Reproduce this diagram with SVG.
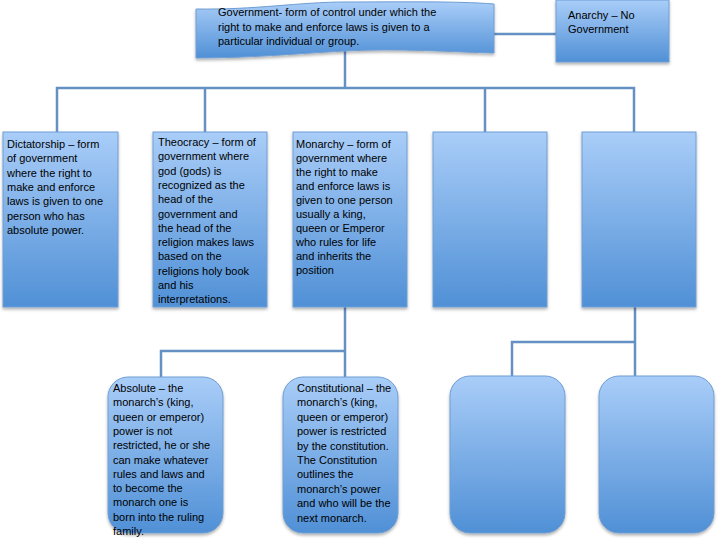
<svg xmlns="http://www.w3.org/2000/svg" width="720" height="540" viewBox="0 0 720 540">
<defs>
<linearGradient id="g" x1="0" y1="0" x2="0" y2="1">
<stop offset="0" stop-color="#a9cdf8"/>
<stop offset="1" stop-color="#5090d6"/>
</linearGradient>
<filter id="sh" x="-10%" y="-10%" width="120%" height="125%">
<feDropShadow dx="0" dy="2" stdDeviation="1.8" flood-color="#000" flood-opacity="0.3"/>
</filter>
</defs>
<style>
.box{fill:url(#g);stroke:#6f9ed3;stroke-width:1;filter:url(#sh)}
.c{fill:none;stroke:#6490c4;stroke-width:2.5}
text{font-family:"Liberation Sans",Arial,sans-serif;font-size:11px;fill:#000}
</style>
<rect width="720" height="540" fill="#fff"/>
<g id="connectors">
<path class="c" d="M494,34 H556"/>
<path class="c" d="M345,50 V88"/>
<path class="c" d="M57,132 V88 H634 V132"/>
<path class="c" d="M205,88 V132"/>
<path class="c" d="M485,88 V132"/>
<path class="c" d="M345,307 V377"/>
<path class="c" d="M161,377 V351 H345"/>
<path class="c" d="M635,307 V376"/>
<path class="c" d="M512,376 V342 H635"/>
</g>
<g id="government">
<path class="box" d="M196,9 C255,10 300,2 345,2 C400,2 455,1 494,4 L494,53 C450,52 400,48 345,51 C290,54 250,58 196,58 Z"/>
<text x="218" y="16">Government- form of control under which the</text>
<text x="218" y="30.5">right to make and enforce laws is given to a</text>
<text x="218" y="45">particular individual or group.</text>
</g>
<g id="anarchy">
<rect class="box" x="556" y="0" width="113" height="62"/>
<text x="568" y="19">Anarchy – No</text>
<text x="568" y="33">Government</text>
</g>
<g id="dictatorship">
<rect class="box" x="3" y="132" width="115" height="175"/>
<text x="7" y="148">Dictatorship – form</text>
<text x="7" y="162.3">of government</text>
<text x="7" y="176.6">where the right to</text>
<text x="7" y="190.9">make and enforce</text>
<text x="7" y="205.2">laws is given to one</text>
<text x="7" y="219.5">person who has</text>
<text x="7" y="233.8">absolute power.</text>
</g>
<g id="theocracy">
<rect class="box" x="153" y="132" width="114" height="175"/>
<text x="158" y="146">Theocracy – form  of</text>
<text x="158" y="160.3">government where</text>
<text x="158" y="174.6">god (gods) is</text>
<text x="158" y="188.9">recognized as the</text>
<text x="158" y="203.2">head of the</text>
<text x="158" y="217.5">government and</text>
<text x="158" y="231.8">the head of the</text>
<text x="158" y="246.1">religion makes laws</text>
<text x="158" y="260.4">based on the</text>
<text x="158" y="274.7">religions holy book</text>
<text x="158" y="289">and his</text>
<text x="158" y="303.3">interpretations.</text>
</g>
<g id="monarchy">
<rect class="box" x="293" y="132" width="114" height="175"/>
<text x="296" y="148">Monarchy – form of</text>
<text x="296" y="162">government where</text>
<text x="296" y="176">the right to make</text>
<text x="296" y="190">and enforce laws is</text>
<text x="296" y="204">given to one person</text>
<text x="296" y="218">usually a king,</text>
<text x="296" y="232">queen or Emperor</text>
<text x="296" y="246">who rules for life</text>
<text x="296" y="260">and inherits the</text>
<text x="296" y="274">position</text>
</g>
<g id="blank1">
<rect class="box" x="433" y="132" width="114" height="175"/>
</g>
<g id="blank2">
<rect class="box" x="582" y="132" width="114" height="175"/>
</g>
<g id="absolute">
<rect class="box" x="108" y="377" width="115" height="156" rx="20" ry="20"/>
<text x="113" y="392">Absolute – the</text>
<text x="113" y="406.3">monarch’s (king,</text>
<text x="113" y="420.6">queen or emperor)</text>
<text x="113" y="434.9">power is not</text>
<text x="113" y="449.2">restricted, he or she</text>
<text x="113" y="463.5">can make whatever</text>
<text x="113" y="477.8">rules and laws and</text>
<text x="113" y="492.1">to become the</text>
<text x="113" y="506.4">monarch one is</text>
<text x="113" y="520.7">born into the ruling</text>
<text x="113" y="535">family.</text>
</g>
<g id="constitutional">
<rect class="box" x="283" y="377" width="115" height="156" rx="20" ry="20"/>
<text x="297" y="392">Constitutional – the</text>
<text x="297" y="406.4">monarch’s (king,</text>
<text x="297" y="420.8">queen or emperor)</text>
<text x="297" y="435.2">power is restricted</text>
<text x="297" y="449.6">by the constitution.</text>
<text x="297" y="464">The Constitution</text>
<text x="297" y="478.4">outlines the</text>
<text x="297" y="492.8">monarch’s power</text>
<text x="297" y="507.2">and who will be the</text>
<text x="297" y="521.6">next monarch.</text>
</g>
<g id="blank3">
<rect class="box" x="450" y="376" width="115" height="157" rx="20" ry="20"/>
</g>
<g id="blank4">
<rect class="box" x="599" y="376" width="115" height="157" rx="20" ry="20"/>
</g>
</svg>
